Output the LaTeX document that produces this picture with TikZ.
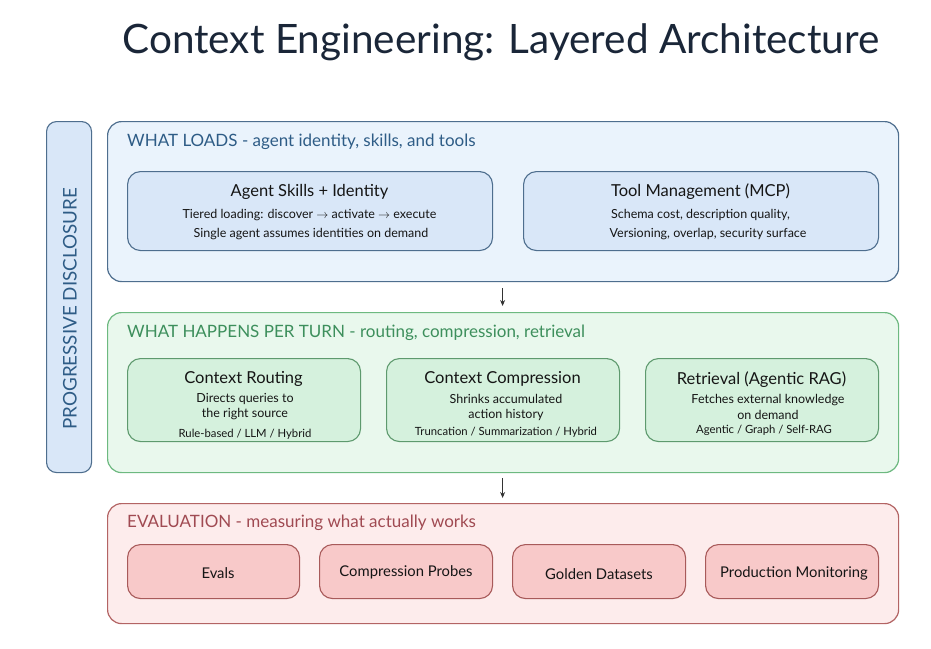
\documentclass[tikz,border=0pt]{standalone}
\usepackage{fontspec}
\setmainfont{Lato}
\usetikzlibrary{arrows.meta}
\definecolor{bluefill}{HTML}{EAF3FC}
\definecolor{blueline}{HTML}{4E6E8E}
\definecolor{blueinner}{HTML}{D9E7F8}
\definecolor{bluetext}{HTML}{2E5C86}
\definecolor{greenfill}{HTML}{E9F8ED}
\definecolor{greenline}{HTML}{6DB980}
\definecolor{greeninner}{HTML}{D5F1DD}
\definecolor{greenborder}{HTML}{5E9A6E}
\definecolor{greentext}{HTML}{3D8F5C}
\definecolor{redfill}{HTML}{FDECEC}
\definecolor{redline}{HTML}{B36464}
\definecolor{redinner}{HTML}{F8C9C9}
\definecolor{redborder}{HTML}{A85A5A}
\definecolor{redtext}{HTML}{A04A52}
\definecolor{titletext}{HTML}{1A2638}
\definecolor{bodytext}{HTML}{151515}
\tikzset{
  txt/.style={inner sep=0pt, yshift=-2pt},
  layer/.style={rounded corners=14pt, line width=1.2pt, anchor=north west, inner sep=0pt},
  bluelayer/.style={layer, draw=blueline, fill=bluefill},
  greenlayer/.style={layer, draw=greenline, fill=greenfill},
  redlayer/.style={layer, draw=redline, fill=redfill},
  inbox/.style={rounded corners=13pt, line width=1.1pt, anchor=north west, inner sep=0pt},
  blueinbox/.style={inbox, draw=blueline, fill=blueinner},
  greeninbox/.style={inbox, draw=greenborder, fill=greeninner},
  redinbox/.style={inbox, draw=redborder, fill=redinner},
  layertitle/.style={txt, anchor=west, font=\fontsize{17}{20}\selectfont},
  btitle/.style={txt, text=bodytext, font=\fontsize{16.5}{20}\selectfont},
  bbody/.style={txt, text=bodytext, font=\fontsize{12.5}{15}\selectfont},
  bsmall/.style={txt, text=bodytext, font=\fontsize{11.3}{14}\selectfont},
  elabel/.style={txt, text=bodytext, font=\fontsize{14.8}{18}\selectfont},
  flow/.style={-{Stealth[length=6pt,width=5pt]}, line width=0.8pt, draw=black!80},
}
\begin{document}
\begin{tikzpicture}[x=1pt,y=-1pt]
\useasboundingbox (0,0) rectangle (931,648);
\fill[white] (0,0) rectangle (931,648);
% title
\node[txt, text=titletext, font=\fontsize{40.5}{44}\selectfont] (title) at (501,40) {Context Engineering: Layered Architecture};
% side bar
\node[draw=blueline, fill=blueinner, rounded corners=10pt, line width=1.1pt, anchor=north west, minimum width=45pt, minimum height=351pt, inner sep=0pt] (side) at (46,121) {};
\node[rotate=90, text=bluetext, inner sep=0pt, font=\fontsize{18.8}{22}\selectfont] (sidetext) at (70,309) {PROGRESSIVE DISCLOSURE};
% layer 1
\node[bluelayer, minimum width=791pt, minimum height=160pt] (L1) at (107,121) {};
\node[layertitle, text=bluetext] (L1t) at (127,140) {WHAT LOADS - agent identity, skills, and tools};
\node[blueinbox, minimum width=365pt, minimum height=79pt] (skills) at (127,171) {};
\node[btitle] (skills1) at (309.5,190) {Agent Skills + Identity};
\node[bbody] (skills2) at (309.5,213) {Tiered loading: discover $\rightarrow$ activate $\rightarrow$ execute};
\node[bbody] (skills3) at (311,232) {Single agent assumes identities on demand};
\node[blueinbox, minimum width=355pt, minimum height=79pt] (tools) at (523,171) {};
\node[btitle] (tools1) at (700.5,190) {Tool Management (MCP)};
\node[bbody] (tools2) at (700.5,213) {Schema cost, description quality,};
\node[bbody] (tools3) at (708,232) {Versioning, overlap, security surface};
% layer 2
\node[greenlayer, minimum width=791pt, minimum height=160pt] (L2) at (107,312) {};
\node[layertitle, text=greentext] (L2t) at (127,331) {WHAT HAPPENS PER TURN - routing, compression, retrieval};
\node[greeninbox, minimum width=233pt, minimum height=83pt] (route) at (127,358) {};
\node[btitle] (route1) at (243.5,377) {Context Routing};
\node[bbody] (route2) at (245,397) {Directs queries to};
\node[bbody] (route3) at (245,412) {the right source};
\node[bsmall] (route4) at (245,432) {Rule-based / LLM / Hybrid};
\node[greeninbox, minimum width=233pt, minimum height=83pt] (comp) at (386,358) {};
\node[btitle] (comp1) at (502.5,377) {Context Compression};
\node[bbody] (comp2) at (506,397) {Shrinks accumulated};
\node[bbody] (comp3) at (506,413) {action history};
\node[bsmall] (comp4) at (506,430) {Truncation / Summarization / Hybrid};
\node[greeninbox, minimum width=233pt, minimum height=83pt] (rag) at (645,358) {};
\node[btitle] (rag1) at (761.5,378) {Retrieval (Agentic RAG)};
\node[bbody] (rag2) at (768,398) {Fetches external knowledge};
\node[bbody] (rag3) at (768,413) {on demand};
\node[bsmall] (rag4) at (764,428) {Agentic / Graph / Self-RAG};
% layer 3
\node[redlayer, minimum width=791pt, minimum height=120pt] (L3) at (107,503) {};
\node[layertitle, text=redtext] (L3t) at (127,521) {EVALUATION - measuring what actually works};
\node[redinbox, minimum width=172pt, minimum height=54pt] (evals) at (127,544) {};
\node[elabel] (evalst) at (218,571) {Evals};
\node[redinbox, minimum width=173pt, minimum height=54pt] (probes) at (319,544) {};
\node[elabel] (probest) at (406,570) {Compression Probes};
\node[redinbox, minimum width=173pt, minimum height=54pt] (golden) at (512,544) {};
\node[elabel] (goldent) at (599,572) {Golden Datasets};
\node[redinbox, minimum width=173pt, minimum height=54pt] (prod) at (705,544) {};
\node[elabel] (prodt) at (794,571) {Production Monitoring};
% arrows
\draw[flow, shorten <=6pt, shorten >=6pt] ([xshift=-0.5pt]L1.south) -- ([xshift=-0.5pt]L2.north);
\draw[flow, shorten <=5pt, shorten >=5pt] ([xshift=-0.5pt]L2.south) -- ([xshift=-0.5pt]L3.north);
\end{tikzpicture}
\end{document}
